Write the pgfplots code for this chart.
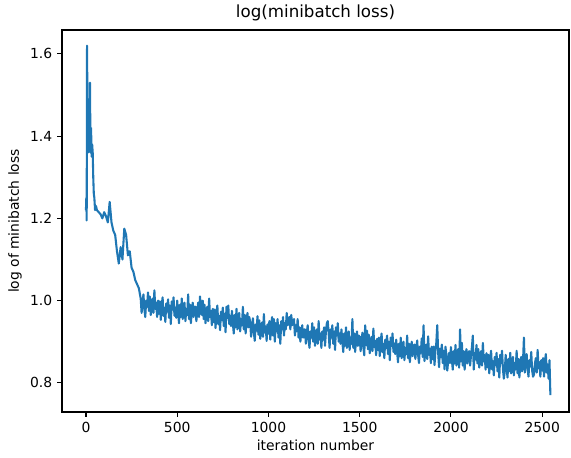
\documentclass[border=0pt]{standalone}
\usepackage{fontspec}
\setmainfont{DejaVu Sans}
\usepackage{pgfplots}
\pgfplotsset{compat=1.18}
\definecolor{mplblue}{HTML}{1F77B4}

\begin{document}
\begin{tikzpicture}
\begin{axis}[
  at={(0,0)}, anchor=south west,
  scale only axis,
  width=365pt, height=275pt,
  xmin=-131.5, xmax=2647,
  ymin=0.729, ymax=1.658,
  xtick={0,500,1000,1500,2000,2500},
  ytick={0.8,1.0,1.2,1.4,1.6},
  /pgf/number format/assume math mode=true,
  /pgf/number format/set thousands separator={},
  yticklabel style={/pgf/number format/.cd, fixed, fixed zerofill, precision=1},
  ticklabel style={font=\fontsize{10}{12}\selectfont},
  tick pos=left,
  tick align=outside,
  major tick length=3.5pt,
  every tick/.style={black, line width=0.8pt},
  axis line style={line width=0.8pt},
  title={log(minibatch loss)},
  title style={font=\fontsize{12}{14}\selectfont, at={(0.5,1)}, anchor=south, inner sep=0pt, yshift=0pt},
  xlabel={iteration number},
  xlabel style={font=\fontsize{10}{12}\selectfont, at={(0.5,0)}, anchor=center, yshift=-23.8pt},
  ylabel={log of minibatch loss},
  ylabel style={font=\fontsize{10}{12}\selectfont, at={(0,0.5)}, anchor=center, yshift=33.8pt},
]
\addplot[mplblue, line width=1.5pt, line join=round, no markers] coordinates {
(0,1.22) (2,1.25) (4,1.195) (6,1.62) (9,1.40) (12,1.36) (15,1.45) (18,1.37)
(22,1.53) (25,1.36) (28,1.42) (31,1.35) (34,1.38) (37,1.36) (40,1.30) (43,1.26)
(46,1.25) (50,1.22) (55,1.23)
(60,1.22) (70,1.215) (80,1.21) (90,1.20) (100,1.215) (110,1.205) (120,1.19) (130,1.24)
(140,1.19) (150,1.17) (160,1.16) (170,1.12) (180,1.09) (190,1.13) (200,1.10) (210,1.175)
(220,1.16) (230,1.11) (240,1.12) (250,1.08) (260,1.07) (270,1.05) (280,1.04) (290,1.03)
(300,1.005) (305,0.970) (310,0.995) (315,1.015) (320,0.980) (325,0.960) (330,1.000) (335,0.985) (340,1.020) (345,0.975)
(350,1.010) (355,0.965) (360,0.990) (365,1.005) (370,0.970) (375,1.025) (380,0.980) (385,0.995) (390,0.960) (395,1.000)
(400,0.968) (405,0.998) (410,0.953) (415,0.988) (420,1.008) (425,0.963) (430,0.983) (435,0.948) (440,0.993) (445,0.973)
(450,1.003) (455,0.958) (460,0.988) (465,0.943) (470,0.998) (475,0.978) (480,1.008) (485,0.963) (490,0.983) (495,0.958)
(500,1.000) (505,0.970) (510,0.945) (515,0.990) (520,0.960) (525,1.005) (530,0.955) (535,0.985) (540,0.995) (545,0.950)
(550,0.980) (555,0.965) (560,1.015) (565,0.955) (570,0.990) (575,0.945) (580,0.975) (585,0.995) (590,0.960) (595,0.985)
(600,0.985) (605,0.950) (610,0.975) (615,0.995) (620,0.960) (625,1.010) (630,0.980) (635,0.965) (640,1.000) (645,0.955)
(650,0.990) (655,0.945) (660,0.970) (665,0.985) (670,0.950) (675,1.005) (680,0.960) (685,0.975) (690,0.940) (695,0.980)
(700,0.948) (705,0.978) (710,0.933) (715,0.968) (720,0.988) (725,0.943) (730,0.963) (735,0.928) (740,0.973) (745,0.953)
(750,0.983) (755,0.938) (760,0.968) (765,0.923) (770,0.985) (775,0.958) (780,0.988) (785,0.943) (790,0.963) (795,0.938)
(800,0.975) (805,0.945) (810,0.920) (815,0.965) (820,0.935) (825,0.980) (830,0.930) (835,0.960) (840,0.970) (845,0.925)
(850,0.955) (855,0.940) (860,0.985) (865,0.930) (870,0.965) (875,0.920) (880,0.950) (885,0.970) (890,0.935) (895,0.960)
(900,0.947) (905,0.912) (910,0.937) (915,0.957) (920,0.922) (925,0.902) (930,0.942) (935,0.927) (940,0.962) (945,0.917)
(950,0.952) (955,0.907) (960,0.932) (965,0.947) (970,0.912) (975,0.967) (980,0.922) (985,0.937) (990,0.902) (995,0.942)
(1000,0.920) (1005,0.950) (1010,0.905) (1015,0.940) (1020,0.960) (1025,0.915) (1030,0.955) (1035,0.900) (1040,0.945) (1045,0.925)
(1050,0.955) (1055,0.910) (1060,0.940) (1065,0.895) (1070,0.950) (1075,0.930) (1080,0.960) (1085,0.915) (1090,0.945) (1095,0.930)
(1100,0.970) (1105,0.940) (1110,0.950) (1115,0.960) (1120,0.930) (1125,0.965) (1130,0.940) (1135,0.950) (1140,0.955) (1145,0.915)
(1150,0.940) (1155,0.925) (1160,0.955) (1165,0.910) (1170,0.935) (1175,0.900) (1180,0.925) (1185,0.940) (1190,0.910) (1195,0.930)
(1200,0.930) (1205,0.895) (1210,0.920) (1215,0.940) (1220,0.905) (1225,0.885) (1230,0.925) (1235,0.910) (1240,0.945) (1245,0.900)
(1250,0.935) (1255,0.890) (1260,0.915) (1265,0.930) (1270,0.895) (1275,0.950) (1280,0.905) (1285,0.920) (1290,0.885) (1295,0.925)
(1300,0.905) (1305,0.935) (1310,0.890) (1315,0.925) (1320,0.945) (1325,0.950) (1330,0.920) (1335,0.885) (1340,0.930) (1345,0.910)
(1350,0.940) (1355,0.895) (1360,0.925) (1365,0.880) (1370,0.935) (1375,0.915) (1380,0.945) (1385,0.900) (1390,0.920) (1395,0.895)
(1400,0.930) (1405,0.900) (1410,0.875) (1415,0.920) (1420,0.890) (1425,0.935) (1430,0.885) (1435,0.915) (1440,0.925) (1445,0.880)
(1450,0.910) (1455,0.895) (1460,0.955) (1465,0.885) (1470,0.920) (1475,0.875) (1480,0.905) (1485,0.925) (1490,0.890) (1495,0.915)
(1500,0.912) (1505,0.877) (1510,0.902) (1515,0.922) (1520,0.887) (1525,0.867) (1530,0.940) (1535,0.892) (1540,0.927) (1545,0.882)
(1550,0.917) (1555,0.872) (1560,0.897) (1565,0.912) (1570,0.877) (1575,0.932) (1580,0.887) (1585,0.902) (1590,0.867) (1595,0.907)
(1600,0.880) (1605,0.910) (1610,0.865) (1615,0.900) (1620,0.920) (1625,0.875) (1630,0.895) (1635,0.860) (1640,0.905) (1645,0.885)
(1650,0.915) (1655,0.870) (1660,0.900) (1665,0.855) (1670,0.910) (1675,0.890) (1680,0.920) (1685,0.875) (1690,0.895) (1695,0.870)
(1700,0.905) (1705,0.875) (1710,0.850) (1715,0.895) (1720,0.865) (1725,0.910) (1730,0.860) (1735,0.890) (1740,0.900) (1745,0.855)
(1750,0.885) (1755,0.870) (1760,0.915) (1765,0.860) (1770,0.895) (1775,0.850) (1780,0.880) (1785,0.900) (1790,0.865) (1795,0.890)
(1800,0.893) (1805,0.858) (1810,0.883) (1815,0.903) (1820,0.868) (1825,0.848) (1830,0.888) (1835,0.873) (1840,0.908) (1845,0.863)
(1850,0.940) (1855,0.853) (1860,0.878) (1865,0.893) (1870,0.858) (1875,0.913) (1880,0.868) (1885,0.883) (1890,0.848) (1895,0.888)
(1900,0.858) (1905,0.888) (1910,0.843) (1915,0.878) (1920,0.898) (1925,0.940) (1930,0.873) (1935,0.838) (1940,0.883) (1945,0.863)
(1950,0.893) (1955,0.848) (1960,0.878) (1965,0.833) (1970,0.888) (1975,0.868) (1980,0.830) (1985,0.853) (1990,0.873) (1995,0.848)
(2000,0.887) (2005,0.857) (2010,0.832) (2015,0.877) (2020,0.847) (2025,0.892) (2030,0.842) (2035,0.872) (2040,0.882) (2045,0.837)
(2050,0.930) (2055,0.852) (2060,0.897) (2065,0.842) (2070,0.877) (2075,0.832) (2080,0.862) (2085,0.882) (2090,0.847) (2095,0.872)
(2100,0.877) (2105,0.842) (2110,0.867) (2115,0.887) (2120,0.915) (2125,0.832) (2130,0.872) (2135,0.857) (2140,0.892) (2145,0.847)
(2150,0.882) (2155,0.837) (2160,0.862) (2165,0.877) (2170,0.842) (2175,0.897) (2180,0.852) (2185,0.867) (2190,0.832) (2195,0.872)
(2200,0.838) (2205,0.868) (2210,0.823) (2215,0.858) (2220,0.878) (2225,0.833) (2230,0.853) (2235,0.818) (2240,0.863) (2245,0.843)
(2250,0.873) (2255,0.828) (2260,0.858) (2265,0.813) (2270,0.868) (2275,0.848) (2280,0.878) (2285,0.833) (2290,0.810) (2295,0.828)
(2300,0.868) (2305,0.838) (2310,0.813) (2315,0.858) (2320,0.828) (2325,0.873) (2330,0.823) (2335,0.853) (2340,0.863) (2345,0.818)
(2350,0.848) (2355,0.833) (2360,0.878) (2365,0.823) (2370,0.858) (2375,0.813) (2380,0.843) (2385,0.863) (2390,0.828) (2395,0.853)
(2400,0.910) (2405,0.825) (2410,0.850) (2415,0.870) (2420,0.835) (2425,0.815) (2430,0.855) (2435,0.840) (2440,0.875) (2445,0.830)
(2450,0.815) (2455,0.820) (2460,0.845) (2465,0.860) (2470,0.825) (2475,0.880) (2480,0.835) (2485,0.850) (2490,0.815) (2495,0.855)
(2500,0.830) (2505,0.860) (2510,0.815) (2515,0.850) (2520,0.870) (2525,0.825) (2530,0.845) (2535,0.810) (2540,0.855) (2545,0.770)
};
\end{axis}
\pgfresetboundingbox
\path[use as bounding box] (-44.6pt,-32.4pt) rectangle (366.44pt,296.6pt);
\end{tikzpicture}
\end{document}
